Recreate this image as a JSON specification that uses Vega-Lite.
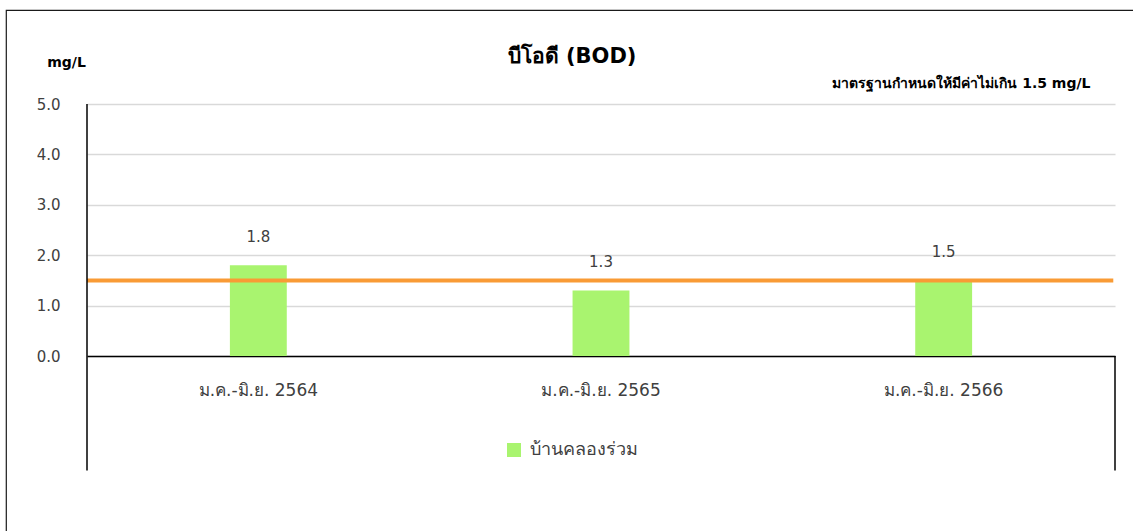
{
  "$schema": "https://vega.github.io/schema/vega-lite/v6.json",
  "autosize": {"type": "none"},
  "width": 1140,
  "height": 540,
  "padding": {"left": 6, "top": 10, "right": 0, "bottom": 0},
  "background": "white",
  "config": {
    "view": {"stroke": "#1a1a1a", "strokeWidth": 1.2},
    "font": "DejaVu Sans"
  },
  "title": {
    "text": "บีโอดี (BOD)",
    "fontSize": 21,
    "fontWeight": "bold",
    "color": "#000000",
    "anchor": "middle",
    "offset": -57,
    "dx": -4
  },
  "datasets": {
    "bod": [
      {"period": "ม.ค.-มิ.ย. 2564", "bod": 1.8, "site": "บ้านคลองร่วม"},
      {"period": "ม.ค.-มิ.ย. 2565", "bod": 1.3, "site": "บ้านคลองร่วม"},
      {"period": "ม.ค.-มิ.ย. 2566", "bod": 1.5, "site": "บ้านคลองร่วม"}
    ],
    "span": [
      {"first": "ม.ค.-มิ.ย. 2564", "last": "ม.ค.-มิ.ย. 2566", "standard": 1.5, "top": 5, "zero": 0, "bottom": -2.27}
    ]
  },
  "layer": [
    {
      "data": {"name": "bod"},
      "mark": {"type": "bar", "width": {"band": 0.166}},
      "encoding": {
        "x": {
          "field": "period", "type": "nominal", "sort": null,
          "scale": {"range": [81, 1109], "paddingInner": 0, "paddingOuter": 0},
          "axis": {
            "orient": "bottom", "offset": -194,
            "domain": true, "domainColor": "#000000", "domainWidth": 1.5,
            "ticks": false, "labelPadding": 26, "labelFontSize": 17,
            "labelColor": "#404040", "labelAngle": 0,
            "title": "มาตรฐานกำหนดให้มีค่าไม่เกิน 1.5 mg/L",
            "titleX": 1084, "titleY": -273, "titleAlign": "right",
            "titleBaseline": "middle", "titleFontSize": 14, "titleFontWeight": "bold",
            "titleColor": "#000000", "titleAngle": 0
          }
        },
        "y": {
          "field": "bod", "type": "quantitative",
          "scale": {"domain": [0, 5], "range": [346, 94], "zero": false, "nice": false},
          "axis": {
            "orient": "left", "offset": -81,
            "values": [0, 1, 2, 3, 4, 5], "format": ".1f",
            "domain": false, "ticks": false, "labelPadding": 27,
            "labelFontSize": 15, "labelColor": "#404040",
            "grid": true, "gridColor": "#d9d9d9", "gridWidth": 1.5,
            "title": "mg/L", "titleAngle": 0, "titleX": -21, "titleY": 52,
            "titleAlign": "center", "titleBaseline": "middle",
            "titleFontSize": 14, "titleFontWeight": "bold", "titleColor": "#000000"
          }
        },
        "color": {
          "field": "site", "type": "nominal",
          "scale": {"range": ["#A9F46F"]},
          "legend": {
            "orient": "none", "legendX": 499, "legendY": 431, "title": null,
            "symbolType": "square", "symbolSize": 196, "symbolStrokeWidth": 0,
            "labelFontSize": 18, "labelColor": "#404040", "labelOffset": 7
          }
        }
      }
    },
    {
      "data": {"name": "bod"},
      "mark": {"type": "text", "baseline": "middle", "dy": -28, "fontSize": 15, "color": "#404040"},
      "encoding": {
        "x": {"field": "period", "type": "nominal", "sort": null},
        "y": {"field": "bod", "type": "quantitative"},
        "text": {"field": "bod", "type": "quantitative", "format": ".1f"}
      }
    },
    {
      "data": {"name": "span"},
      "mark": {"type": "rule", "color": "#F99B35", "strokeWidth": 4},
      "encoding": {
        "x": {"field": "first", "type": "nominal", "bandPosition": 0},
        "x2": {"field": "last", "bandPosition": 0.995},
        "y": {"field": "standard", "type": "quantitative"}
      }
    },
    {
      "data": {"name": "span"},
      "mark": {"type": "rule", "color": "#000000", "strokeWidth": 1.5},
      "encoding": {
        "x": {"field": "first", "type": "nominal", "bandPosition": 0},
        "y": {"field": "top", "type": "quantitative"},
        "y2": {"field": "bottom"}
      }
    },
    {
      "data": {"name": "span"},
      "mark": {"type": "rule", "color": "#000000", "strokeWidth": 1.5},
      "encoding": {
        "x": {"field": "last", "type": "nominal", "bandPosition": 1},
        "y": {"field": "zero", "type": "quantitative"},
        "y2": {"field": "bottom"}
      }
    }
  ]
}
